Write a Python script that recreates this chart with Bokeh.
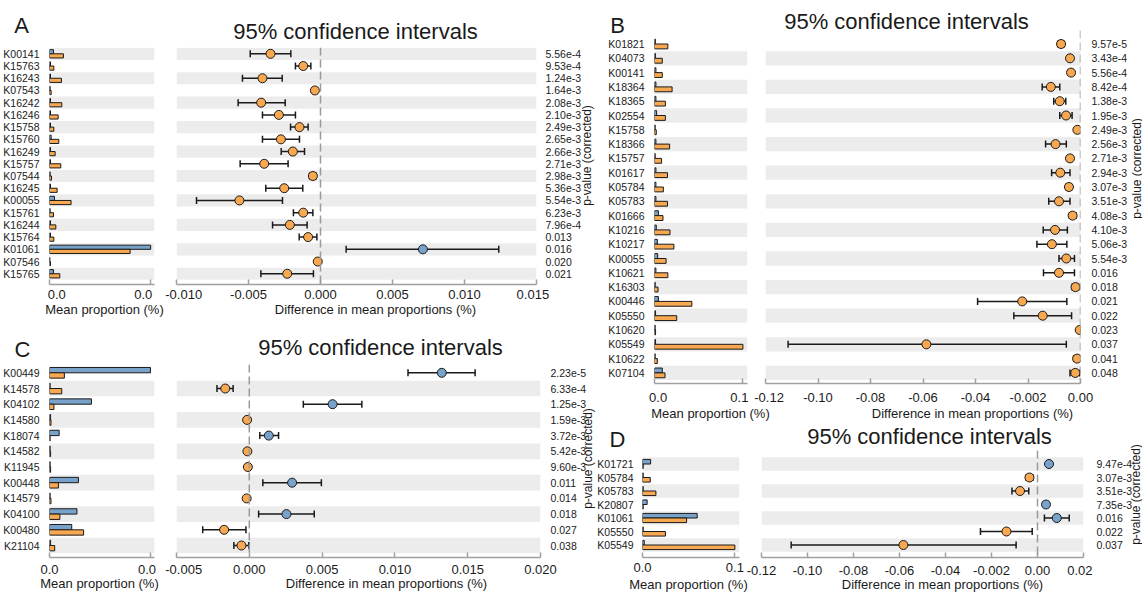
import numpy as np
from bokeh.plotting import figure
from bokeh.models import Range1d, LinearAxis, FixedTicker, PrintfTickFormatter, Span
from bokeh.core.properties import value
from bokeh.embed import file_html
from bokeh.resources import INLINE

W, H = 1142, 595
FONT = "Liberation Sans"
BLUE = "#78a2ca"
ORANGE = "#f7a850"
STRIPE = "#ececec"
AXIS_GREY = "#a0a0a0"
INK = "#1a1a1a"
SP = "\u2007"  # figure space, nudges edge tick labels inward as in the original

# ---------------- Panel A ----------------
a_names = ["K00141", "K15763", "K16243", "K07543", "K16242", "K16246", "K15758", "K15760", "K16249", "K15757",
           "K07544", "K16245", "K00055", "K15761", "K16244", "K15764", "K01061", "K07546", "K15765"]
a_blue = [0.00138, 0.00035, 0.00035, 0.00023, 0.00035, 0.00035, 0.00035, 0.00058, 0.00035, 0.00035,
          0.00023, 0.00035, 0.00173, 0.00023, 0.00035, 0.00035, 0.03508, 0.00012, 0.00138]
a_orange = [0.00483, 0.00150, 0.00414, 0.00058, 0.00426, 0.00299, 0.00150, 0.00322, 0.00196, 0.00391,
            0.00069, 0.00265, 0.00748, 0.00138, 0.00219, 0.00150, 0.02795, 0.00035, 0.00357]
a_diff = [-0.00347, -0.00120, -0.00403, -0.00039, -0.00412, -0.00289, -0.00146, -0.00275, -0.00192, -0.00391,
          -0.00053, -0.00252, -0.00563, -0.00120, -0.00213, -0.00086, 0.00711, -0.00019, -0.00231]
a_lo = [-0.00488, -0.00174, -0.00542, -0.00058, -0.00572, -0.00403, -0.00208, -0.00403, -0.00273, -0.00558,
        -0.00076, -0.00380, -0.00861, -0.00188, -0.00333, -0.00148, 0.00178, -0.00035, -0.00414]
a_hi = [-0.00206, -0.00067, -0.00266, -0.00021, -0.00245, -0.00174, -0.00086, -0.00146, -0.00111, -0.00225,
        -0.00030, -0.00123, -0.00264, -0.00053, -0.00093, -0.00025, 0.01238, -0.00002, -0.00049]
a_pvals = ["5.56e-4", "9.53e-4", "1.24e-3", "1.64e-3", "2.08e-3", "2.10e-3", "2.49e-3", "2.65e-3", "2.66e-3",
           "2.71e-3", "2.98e-3", "5.36e-3", "5.54e-3", "6.23e-3", "7.96e-4", "0.013", "0.016", "0.020", "0.021"]
a_bar_ticks = [0.0, 0.035]
a_bar_labels = [SP * 2 + "0.0", "0.0" + SP * 2]
a_ci_ticks = [-0.010, -0.005, 0.0, 0.005, 0.010, 0.015]
a_ci_labels = [SP * 2 + "-0.010", "-0.005", "0.000", "0.005", "0.010", "0.015" + SP]

# ---------------- Panel B ----------------
b_names = ["K01821", "K04073", "K00141", "K18364", "K18365", "K02554", "K15758", "K18366", "K15757", "K01617",
           "K05784", "K05783", "K01666", "K10216", "K10217", "K00055", "K10621", "K16303", "K00446", "K05550",
           "K10620", "K05549", "K10622", "K07104"]
b_blue = [0.0010, 0.0010, 0.0016, 0.0016, 0.0016, 0.0024, 0.0008, 0.0016, 0.0008, 0.0016,
          0.0016, 0.0016, 0.0044, 0.0020, 0.0032, 0.0036, 0.0016, 0.0008, 0.0044, 0.0012,
          0.0008, 0.0012, 0.0008, 0.0088]
b_orange = [0.0151, 0.0088, 0.0088, 0.0199, 0.0123, 0.0123, 0.0020, 0.0171, 0.0080, 0.0147,
            0.0100, 0.0147, 0.0096, 0.0175, 0.0219, 0.0131, 0.0151, 0.0040, 0.0422, 0.0251,
            0.0012, 0.0999, 0.0032, 0.0119]
b_diff = [-0.0074, -0.0040, -0.0036, -0.0113, -0.0079, -0.0055, -0.0012, -0.0095, -0.0040, -0.0077,
          -0.0044, -0.0082, -0.0030, -0.0097, -0.0109, -0.0054, -0.0082, -0.0019, -0.0222, -0.0144,
          -0.0003, -0.0587, -0.0013, -0.0020]
b_lo = [-0.0087, -0.0047, -0.0047, -0.0146, -0.0102, -0.0079, -0.0019, -0.0133, -0.0050, -0.0110,
        -0.0056, -0.0121, -0.0042, -0.0142, -0.0166, -0.0082, -0.0141, -0.0032, -0.0392, -0.0254,
        -0.0008, -0.1114, -0.0026, -0.0040]
b_hi = [-0.0062, -0.0034, -0.0027, -0.0079, -0.0056, -0.0032, -0.0005, -0.0054, -0.0031, -0.0040,
        -0.0034, -0.0040, -0.0017, -0.0050, -0.0052, -0.0023, -0.0023, -0.0007, -0.0052, -0.0034,
        0.0000, -0.0054, -0.0003, -0.0003]
b_pvals = ["9.57e-5", "3.43e-4", "5.56e-4", "8.42e-4", "1.38e-3", "1.95e-3", "2.49e-3", "2.56e-3", "2.71e-3",
           "2.94e-3", "3.07e-3", "3.51e-3", "4.08e-3", "4.10e-3", "5.06e-3", "5.54e-3", "0.016", "0.018",
           "0.021", "0.022", "0.023", "0.037", "0.041", "0.048"]
b_bar_ticks = [0.0, 0.1]
b_bar_labels = [SP + "0.0", "0.1" + SP]
b_ci_ticks = [-0.12, -0.10, -0.08, -0.06, -0.04, -0.02, 0.0]
b_ci_labels = [SP + "-0.12", "-0.10", "-0.08", "-0.06", "-0.04", "-0.002", "0.00"]

# ---------------- Panel C ----------------
c_names = ["K00449", "K14578", "K04102", "K14580", "K18074", "K14582", "K11945", "K00448", "K14579", "K04100",
           "K00480", "K21104"]
c_blue = [0.01548, 0.00010, 0.00643, 0.00017, 0.00148, 0.00010, 0.00010, 0.00444, 0.00010, 0.00421,
          0.00341, 0.00017]
c_orange = [0.00228, 0.00188, 0.00068, 0.00023, 0.00010, 0.00017, 0.00017, 0.00137, 0.00023, 0.00159,
            0.00523, 0.00080]
c_diff = [0.01322, -0.00165, 0.00572, -0.00015, 0.00134, -0.00013, -0.00010, 0.00294, -0.00018, 0.00255,
          -0.00173, -0.00054]
c_lo = [0.01090, -0.00222, 0.00371, -0.00020, 0.00072, -0.00018, -0.00015, 0.00093, -0.00024, 0.00064,
        -0.00320, -0.00106]
c_hi = [0.01551, -0.00111, 0.00773, -0.00010, 0.00201, -0.00008, -0.00005, 0.00495, -0.00012, 0.00446,
        -0.00023, -0.00003]
c_pvals = ["2.23e-5", "6.33e-4", "1.25e-3", "1.59e-3", "3.72e-3", "5.42e-3", "9.60e-3", "0.011", "0.014",
           "0.018", "0.027", "0.038"]
c_bar_ticks = [0.0, 0.0155]
c_bar_labels = ["0.0", "0.0" + SP]
c_ci_ticks = [-0.005, 0.0, 0.005, 0.010, 0.015, 0.020]
c_ci_labels = [SP * 2 + "-0.005", "0.000", "0.005", "0.010", "0.015", "0.020"]

# ---------------- Panel D ----------------
d_names = ["K01721", "K05784", "K05783", "K20807", "K01061", "K05550", "K05549"]
d_blue = [0.0088, 0.0008, 0.0008, 0.0050, 0.0592, 0.0008, 0.0019]
d_orange = [0.0008, 0.0084, 0.0145, 0.0008, 0.0477, 0.0248, 0.1000]
d_diff = [0.0050, -0.0035, -0.0076, 0.0037, 0.0084, -0.0135, -0.0583]
d_lo = [0.0041, -0.0049, -0.0111, 0.0026, 0.0030, -0.0248, -0.1071]
d_hi = [0.0059, -0.0020, -0.0038, 0.0046, 0.0138, -0.0023, -0.0093]
d_pvals = ["9.47e-4", "3.07e-3", "3.51e-3", "7.35e-3", "0.016", "0.022", "0.037"]
d_bar_ticks = [0.0, 0.1]
d_bar_labels = ["0.0", "0.1"]
d_ci_ticks = [-0.12, -0.10, -0.08, -0.06, -0.04, -0.02, 0.0, 0.02]
d_ci_labels = ["-0.12", "-0.10", "-0.08", "-0.06", "-0.04", "-0.002", "0.00", "0.02" + SP]

TITLE = "95% confidence intervals"
X1_LABEL = "Mean proportion (%)"
X2_LABEL = "Difference in mean proportions (%)"
P_LABEL = "p-value (corrected)"

# layout geometry (page pixels) -- positions only
GEO = {
    "A": dict(barL=48, barR=154, ciL=176, ciR=536, top=47, bottom=284, row0=53.3, step=12.22,
              bar_max=0.0364, ci_x=(-0.010, 0.015), tstd=2, lstd=4, pstd=3,
              letter=(21, 25), title=(355, 31), mean=(104, 309), diffl=(375, 309), plab=(582, 155)),
    "B": dict(barL=654, barR=747, ciL=765, ciR=1080, top=30, bottom=383, row0=43.5, step=14.3,
              bar_max=0.1051, ci_x=(-0.12, 0.0), tstd=6, lstd=4, pstd=5,
              letter=(617, 25), title=(906, 21), mean=(710, 413), diffl=(972, 413), plab=(1132, 168)),
    "C": dict(barL=48, barR=154, ciL=176, ciR=540, top=364, bottom=557, row0=372.3, step=15.7,
              bar_max=0.0161, ci_x=(-0.005, 0.020), tstd=4, lstd=4, pstd=4,
              letter=(22, 349), title=(380, 347), mean=(99, 583), diffl=(386, 583), plab=(583, 458)),
    "D": dict(barL=642, barR=739, ciL=761, ciR=1083, top=450, bottom=557, row0=463.5, step=13.5,
              bar_max=0.105, ci_x=(-0.12, 0.02), tstd=5, lstd=3, pstd=7,
              letter=(617, 439), title=(929, 436), mean=(688, 584), diffl=(942, 584), plab=(1131, 494)),
}
PLAB_PX = 12          # font size of the rotated p-value label
PLAB_EM = 8.39        # its length in em (Liberation Sans)

OVERLAY = {"position": "absolute", "left": "0px", "top": "0px"}


def style_fig(f):
    f.border_fill_color = None
    f.background_fill_color = None
    f.outline_line_color = None
    f.grid.visible = False
    f.styles = dict(OVERLAY)


def style_xaxis(ax, std):
    ax.axis_line_color = AXIS_GREY
    ax.axis_line_width = 1.5
    ax.major_tick_line_color = AXIS_GREY
    ax.major_tick_line_width = 1.5
    ax.major_tick_in = 5
    ax.major_tick_out = 0
    ax.minor_tick_line_color = None
    ax.major_label_text_font = FONT
    ax.major_label_text_font_size = "13px"
    ax.major_label_text_color = INK
    ax.major_label_standoff = std


def make_panel(key, names, blue, orange, diff, lo, hi, pvals, bar_ticks, bar_labels, ci_ticks, ci_labels):
    g = GEO[key]
    n = len(names)
    rows = np.arange(n)
    yr = Range1d((g["bottom"] - g["row0"]) / g["step"], (g["top"] - g["row0"]) / g["step"])
    stripe_rows = [i for i in range(n) if (n - 1 - i) % 2 == 0]
    common = dict(width=W, height=H, y_range=yr, output_backend="svg", toolbar_location=None,
                  min_border_top=g["top"], min_border_bottom=H - g["bottom"])

    # ---- mean proportion bars ----
    fb = figure(x_range=Range1d(0, g["bar_max"]), min_border_left=g["barL"],
                min_border_right=W - g["barR"], **common)
    style_fig(fb)
    fb.hbar(y=stripe_rows, height=1, left=0, right=g["bar_max"], fill_color=STRIPE, line_color=None)
    fb.hbar(y=rows - 0.17, height=0.34, left=0, right=blue, fill_color=BLUE, line_color=INK, line_width=1)
    fb.hbar(y=rows + 0.17, height=0.34, left=0, right=orange, fill_color=ORANGE, line_color=INK, line_width=1)
    ax = fb.xaxis[0]
    ax.ticker = FixedTicker(ticks=bar_ticks, minor_ticks=[])
    ax.formatter = PrintfTickFormatter(format="%.1f")
    ax.major_label_overrides = {t: s for t, s in zip(bar_ticks, bar_labels)}
    style_xaxis(ax, g["tstd"])
    ay = fb.yaxis[0]
    ay.ticker = FixedTicker(ticks=list(range(n)), minor_ticks=[])
    ay.major_label_overrides = {i: nm for i, nm in enumerate(names)}
    ay.axis_line_color = None
    ay.major_tick_line_color = None
    ay.minor_tick_line_color = None
    ay.major_label_text_font = FONT
    ay.major_label_text_font_size = "10.5px"
    ay.major_label_text_color = INK
    ay.major_label_standoff = g["lstd"]

    # ---- confidence intervals ----
    x0, x1 = g["ci_x"]
    fc = figure(x_range=Range1d(x0, x1), min_border_left=g["ciL"], min_border_right=W - g["ciR"],
                y_axis_location=None, **common)
    style_fig(fc)
    fc.hbar(y=stripe_rows, height=1, left=x0, right=x1, fill_color=STRIPE, line_color=None)
    fc.add_layout(Span(location=0, dimension="height", line_color="#9a9a9a", line_width=1.5, line_dash="8 4"))
    fc.segment(x0=lo, y0=rows, x1=hi, y1=rows, line_color=INK, line_width=1.5)
    fc.scatter(x=list(lo) + list(hi), y=list(rows) + list(rows), marker="dash", angle=np.pi / 2, size=7,
               line_color=INK, line_width=1.5)
    colors = [BLUE if d > 0 else ORANGE for d in diff]
    fc.scatter(x=diff, y=rows, size=9, fill_color=colors, line_color=INK, line_width=1)
    cx = fc.xaxis[0]
    cx.ticker = FixedTicker(ticks=ci_ticks, minor_ticks=[])
    cx.major_label_overrides = {t: s for t, s in zip(ci_ticks, ci_labels)}
    style_xaxis(cx, g["tstd"])
    ap = LinearAxis(ticker=FixedTicker(ticks=list(range(n)), minor_ticks=[]),
                    major_label_overrides={i: p for i, p in enumerate(pvals)})
    ap.axis_line_color = None
    ap.major_tick_line_color = None
    ap.minor_tick_line_color = None
    ap.major_label_text_font = FONT
    ap.major_label_text_font_size = "10.5px"
    ap.major_label_text_color = INK
    ap.major_label_standoff = g["pstd"]
    fc.add_layout(ap, "right")
    return [fb, fc]


figs = []
figs += make_panel("A", a_names, a_blue, a_orange, a_diff, a_lo, a_hi, a_pvals,
                   a_bar_ticks, a_bar_labels, a_ci_ticks, a_ci_labels)
figs += make_panel("B", b_names, b_blue, b_orange, b_diff, b_lo, b_hi, b_pvals,
                   b_bar_ticks, b_bar_labels, b_ci_ticks, b_ci_labels)
figs += make_panel("C", c_names, c_blue, c_orange, c_diff, c_lo, c_hi, c_pvals,
                   c_bar_ticks, c_bar_labels, c_ci_ticks, c_ci_labels)
figs += make_panel("D", d_names, d_blue, d_orange, d_diff, d_lo, d_hi, d_pvals,
                   d_bar_ticks, d_bar_labels, d_ci_ticks, d_ci_labels)

# ---- text layer: one full-page frame whose data units are page pixels ----
ft = figure(width=W, height=H, x_range=Range1d(0, W), y_range=Range1d(H, 0), title=None,
            min_border=0, min_border_left=0, min_border_right=0, min_border_top=0, min_border_bottom=0,
            output_backend="svg", toolbar_location=None, x_axis_location=None, y_axis_location=None)
style_fig(ft)

keys = ["A", "B", "C", "D"]


def put(field, texts, size):
    xs = [GEO[k][field][0] for k in keys]
    ys = [GEO[k][field][1] for k in keys]
    ft.text(x=xs, y=ys, text=texts, text_font=value(FONT), text_font_size=value(size),
            text_align="center", text_baseline="middle", text_color=INK)


put("letter", keys, "22px")
put("title", [TITLE] * 4, "22px")
put("mean", [X1_LABEL] * 4, "13px")
put("diffl", [X2_LABEL] * 4, "13px")

# rotated label: anchored at its starting (bottom) end on the alphabetic baseline
half_len = 0.5 * PLAB_EM * PLAB_PX
ft.text(x=[GEO[k]["plab"][0] + 4 for k in keys], y=[GEO[k]["plab"][1] + half_len for k in keys],
        text=[P_LABEL] * 4, angle=np.pi / 2, text_font=value(FONT), text_font_size=value(f"{PLAB_PX}px"),
        text_align="left", text_baseline="alphabetic", text_color=INK)

figs.append(ft)

p = figs
open("out.html", "w").write(file_html(p, INLINE))
